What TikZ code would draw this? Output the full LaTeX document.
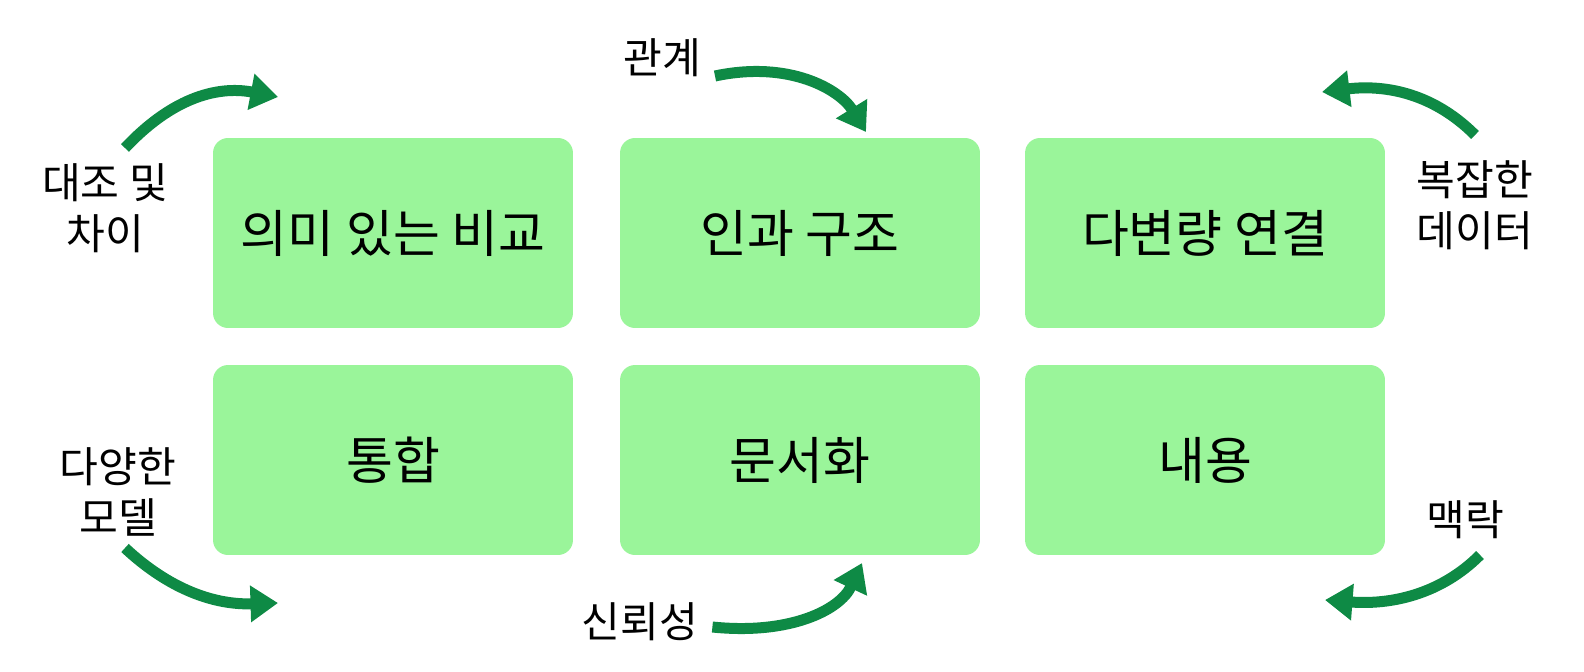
\documentclass[tikz,border=0pt]{standalone}
\usepackage{fontspec}
\setmainfont{Noto Sans CJK KR}
\usetikzlibrary{positioning, arrows.meta}
\definecolor{boxgreen}{HTML}{9AF59A}
\definecolor{arrowgreen}{HTML}{0E8A45}
\begin{document}
\begin{tikzpicture}[x=0.02cm, y=-0.02cm,
    box/.style={fill=boxgreen, draw=none, rounded corners=0.3cm, minimum width=7.2cm, minimum height=3.8cm, font=\fontsize{29}{33}\selectfont},
    lbl/.style={font=\fontsize{24}{29}\selectfont, align=center},
    flow/.style={arrowgreen, line width=0.22cm, -{Triangle[length=0.55cm, width=0.7cm]}}]
    \useasboundingbox[fill=white] (0,0) rectangle (1584,672);
    % boxes
    \node[box] (cmp) at (393,233) {의미 있는 비교};
    \node[box] (cau) at (800,233) {인과 구조};
    \node[box] (mul) at (1205,233) {다변량 연결};
    \node[box] (int) at (393,460) {통합};
    \node[box] (doc) at (800,460) {문서화};
    \node[box] (con) at (1205,460) {내용};
    % labels
    \node[lbl] (dif) at (105,208) {대조 및\\차이};
    \node[lbl] (rel) at (662,58) {관계};
    \node[lbl] (cpx) at (1475,205) {복잡한\\데이터};
    \node[lbl] (mod) at (118,492) {다양한\\모델};
    \node[lbl] (rlb) at (640,622) {신뢰성};
    \node[lbl] (ctx) at (1465,520) {맥락};
    % arrow ends
    \coordinate (a1) at (278,97);
    \coordinate (a2) at (866,132);
    \coordinate (a3) at (1322,92);
    \coordinate (a4) at (278,603);
    \coordinate (a5) at (862,563);
    \coordinate (a6) at (1325,600);
    \draw[flow] (125,148) .. controls (170,100) and (215,85) .. (a1);
    \draw[flow] (rel.east) ++(8,18) .. controls (790,60) and (840,90) .. (a2);
    \draw[flow] (1475,135) .. controls (1430,90) and (1380,85) .. (a3);
    \draw[flow] (125,548) .. controls (170,590) and (215,605) .. (a4);
    \draw[flow] (rlb.east) ++(8,5) .. controls (790,635) and (840,610) .. (a5);
    \draw[flow] (1480,555) .. controls (1440,595) and (1390,605) .. (a6);
\end{tikzpicture}
\end{document}
